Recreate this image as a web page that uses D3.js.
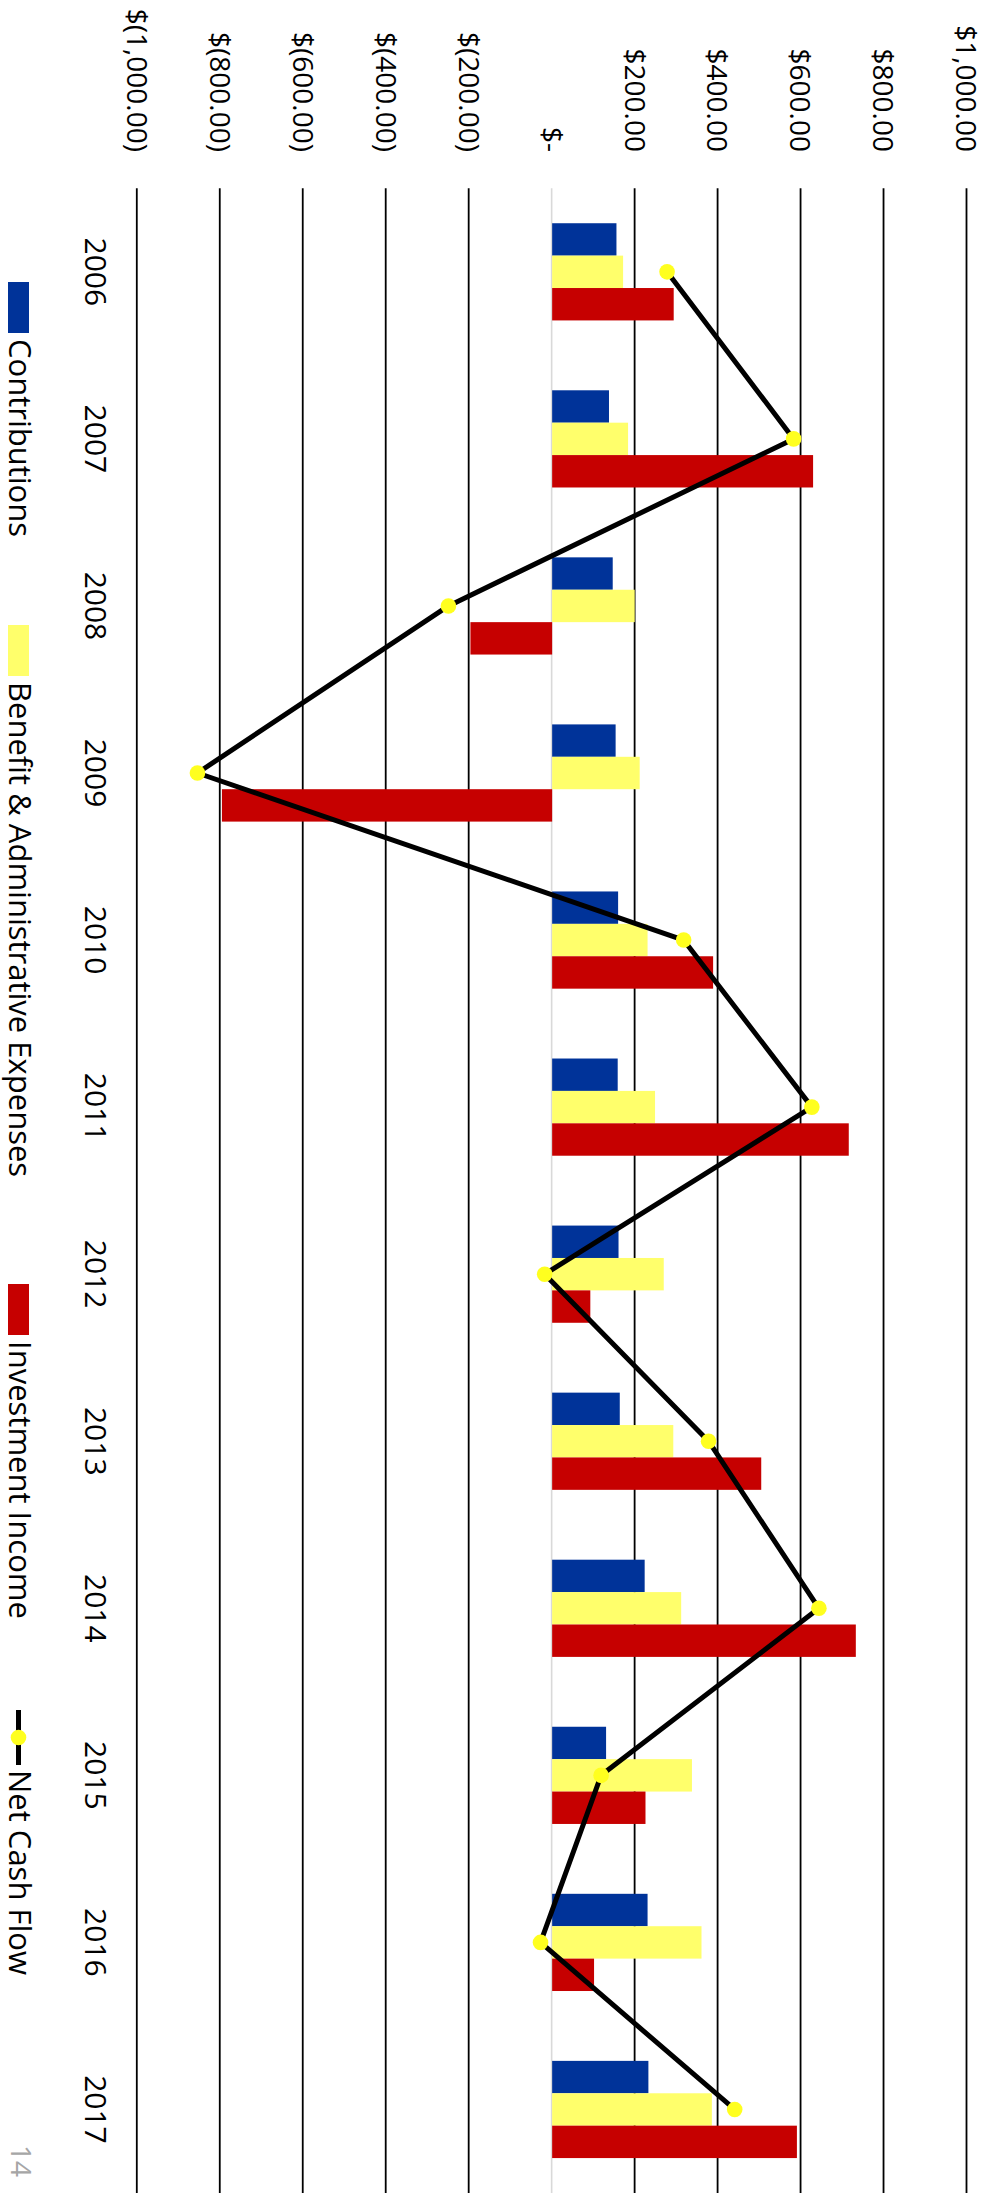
<!DOCTYPE html>
<html>
<head>
<meta charset="utf-8">
<script src="https://cdn.jsdelivr.net/npm/d3@7"></script>
<style>
  html, body { margin: 0; padding: 0; background: #ffffff; }
  svg { display: block; }
  text { font-family: "Open Sans", "Noto Sans", sans-serif; }
</style>
</head>
<body>
<svg id="chart" width="995" height="2203"></svg>
<script>
// Fund cash flow by year (thousands of dollars)
const years = ["2006", "2007", "2008", "2009", "2010", "2011", "2012", "2013", "2014", "2015", "2016", "2017"];
const contributions = [155, 137, 146, 153, 159, 158, 160, 163, 223, 130, 230, 232];
const expenses = [171, 183, 199, 211, 230, 248, 269, 292, 311, 337, 360, 385];
const investmentIncome = [293, 629, -197, -796, 388, 715, 92, 504, 732, 225, 101, 590];
const netCashFlow = [277, 582, -250, -855, 317, 626, -18, 377, 643, 118, -28, 440];
const valueTicks = [-1000, -800, -600, -400, -200, 0, 200, 400, 600, 800, 1000];

const seriesNames = ["Contributions", "Benefit & Administrative Expenses", "Investment Income"];
const seriesColors = ["#003399", "#ffff6b", "#c60000"];
const seriesValues = [contributions, expenses, investmentIncome];
const lineName = "Net Cash Flow";

const W = 995, H = 2203;
const svg = d3.select("#chart");

// The chart is laid out landscape and turned a quarter turn clockwise onto the page.
const g = svg.append("g").attr("transform", `translate(${W},0) rotate(90)`);

const x = d3.scaleBand().domain(years).range([188.3, 2193]).padding(0);
const groupHalf = 48.6;
const xs = d3.scaleBand().domain(seriesNames)
  .range([x.bandwidth() / 2 - groupHalf, x.bandwidth() / 2 + groupHalf]);
const y = d3.scaleLinear().domain([-1000, 1000]).range([857.7, 28]);

// Gridlines
const grid = g.append("g")
  .call(d3.axisLeft(y).tickValues(valueTicks).tickSize(-(x.range()[1] - x.range()[0])).tickFormat(""))
  .attr("transform", `translate(${x.range()[0]},0)`);
grid.select(".domain").remove();
grid.selectAll(".tick line")
  .attr("stroke", d => d === 0 ? "#d9d9d9" : "#000000")
  .attr("stroke-width", d => d === 0 ? 1.6 : 1.8);

// Value labels
const fmt = v => {
  if (v === 0) return "$-";
  const s = d3.format(",.2f")(Math.abs(v));
  return v < 0 ? `$(${s})` : `$${s}`;
};
const yAxis = g.append("g")
  .attr("transform", `translate(152,0)`)
  .call(d3.axisLeft(y).tickValues(valueTicks).tickSize(0).tickPadding(0).tickFormat(fmt));
yAxis.select(".domain").remove();
yAxis.selectAll("text")
  .attr("font-family", "Open Sans, sans-serif")
  .attr("font-size", 28)
  .attr("fill", "#000")
  .attr("dy", "0.36em");

// Year labels
const xAxis = g.append("g")
  .attr("transform", `translate(0,910)`)
  .call(d3.axisBottom(x).tickSize(0).tickPadding(0));
xAxis.select(".domain").remove();
xAxis.selectAll("text")
  .attr("font-family", "Open Sans, sans-serif")
  .attr("font-size", 30)
  .attr("fill", "#000")
  .attr("y", 0)
  .attr("dy", 0);

// Bars
const rows = years.map((yr, i) => ({
  year: yr,
  values: seriesNames.map((name, k) => ({ name, color: seriesColors[k], value: seriesValues[k][i] }))
}));
const groups = g.append("g").selectAll("g")
  .data(rows).join("g")
  .attr("transform", d => `translate(${x(d.year)},0)`);
groups.selectAll("rect")
  .data(d => d.values).join("rect")
  .attr("x", d => xs(d.name))
  .attr("width", xs.bandwidth())
  .attr("y", d => y(Math.max(0, d.value)))
  .attr("height", d => Math.abs(y(d.value) - y(0)))
  .attr("fill", d => d.color);

// Net cash flow line with markers
const pts = years.map((yr, i) => ({ year: yr, value: netCashFlow[i] }));
const line = d3.line()
  .x(d => x(d.year) + x.bandwidth() / 2)
  .y(d => y(d.value));
g.append("path")
  .datum(pts)
  .attr("d", line)
  .attr("fill", "none")
  .attr("stroke", "#000")
  .attr("stroke-width", 5)
  .attr("stroke-linejoin", "round");
g.append("g").selectAll("circle")
  .data(pts).join("circle")
  .attr("cx", d => x(d.year) + x.bandwidth() / 2)
  .attr("cy", d => y(d.value))
  .attr("r", 7.8)
  .attr("fill", "#ffff1f");

// Legend
const legendTop = 966, legendH = 21, swW = 51;
const legendStarts = [282, 625, 1284];
seriesNames.forEach((name, k) => {
  const lg = g.append("g").attr("transform", `translate(${legendStarts[k]},${legendTop})`);
  lg.append("rect").attr("width", swW).attr("height", legendH).attr("fill", seriesColors[k]);
  lg.append("text").attr("x", swW + 6).attr("y", 20)
    .attr("font-size", 31).attr("fill", "#000").text(name);
});
const nl = g.append("g").attr("transform", `translate(1710,${legendTop})`);
nl.append("line").attr("x1", 0).attr("x2", 55).attr("y1", legendH / 2).attr("y2", legendH / 2)
  .attr("stroke", "#000").attr("stroke-width", 5);
nl.append("circle").attr("cx", 27.5).attr("cy", legendH / 2).attr("r", 7.8).attr("fill", "#ffff1f");
nl.append("text").attr("x", 60).attr("y", 20).attr("font-size", 31).attr("fill", "#000").text(lineName);

// Page number
g.append("text").attr("x", 2145).attr("y", 984)
  .attr("font-size", 28).attr("fill", "#a6a6a6").text("14");
</script>
</body>
</html>
